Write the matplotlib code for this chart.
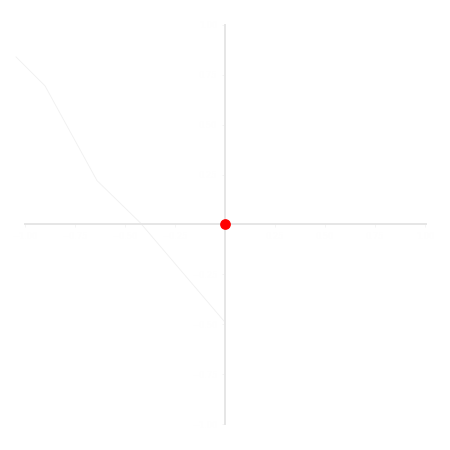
import matplotlib
matplotlib.use("Agg")
import matplotlib.pyplot as plt

# data
path_x = [-1.045, -0.90, -0.64, -0.425, 0.0]
path_y = [0.84, 0.695, 0.22, 0.01, -0.49]
point_x = [0.0]
point_y = [0.0]
x_ticks = [-1.0, -0.75, -0.5, -0.25, 0.25, 0.5, 0.75, 1.0]
y_ticks = [-1.0, -0.75, -0.5, -0.25, 0.25, 0.5, 0.75, 1.0]

fig = plt.figure(figsize=(4.5, 4.5), dpi=100)
ax = fig.add_axes([25/450, 26/450, 401/450, 399/450])
ax.set_xlim(-1.0, 1.005)
ax.set_ylim(-1.0, 0.995)

for s in ["top", "right"]:
    ax.spines[s].set_visible(False)
ax.spines["left"].set_position(("data", 0))
ax.spines["bottom"].set_position(("data", 0))
ax.spines["left"].set_color("#e6e6e6")
ax.spines["bottom"].set_color("#e6e6e6")
ax.spines["left"].set_linewidth(1.4)
ax.spines["bottom"].set_linewidth(1.4)

ax.set_xticks(x_ticks)
ax.set_yticks(y_ticks)
ax.tick_params(colors="#f4f4f4", length=2, width=0.6, labelsize=6)
for lbl in ax.get_xticklabels() + ax.get_yticklabels():
    lbl.set_color("#fefefe")

ax.plot(path_x, path_y, color="#f0f0f0", linewidth=0.6, clip_on=False, zorder=2)
ax.scatter(point_x, point_y, s=45, color="#ff0000", zorder=5, clip_on=False)

fig.savefig("out.png", dpi=100, facecolor="white")
